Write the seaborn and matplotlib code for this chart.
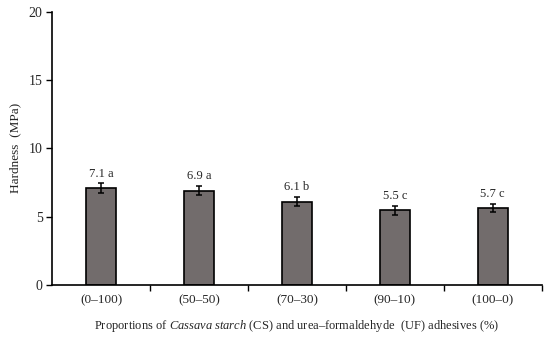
import numpy as np
import pandas as pd
import matplotlib
matplotlib.use("Agg")
import matplotlib.pyplot as plt
import seaborn as sns

# Data
categories = ["(0\u2013100)", "(50\u201350)", "(70\u201330)", "(90\u201310)", "(100\u20130)"]
hardness = [7.1, 6.9, 6.1, 5.45, 5.65]
errors = [0.35, 0.35, 0.35, 0.35, 0.3]
labels = ["7.1 a", "6.9 a", "6.1 b", "5.5 c", "5.7 c"]

df = pd.DataFrame({"group": categories, "hardness": hardness})

sns.set_style("ticks")
plt.rcParams["font.family"] = ["Liberation Serif", "DejaVu Serif"]
plt.rcParams["mathtext.fontset"] = "custom"
plt.rcParams["mathtext.it"] = "Liberation Serif:italic"
plt.rcParams["mathtext.rm"] = "Liberation Serif"

fig, ax = plt.subplots(figsize=(5.5, 3.43), dpi=100)

sns.barplot(data=df, x="group", y="hardness", color="#726c6c", saturation=1,
            width=0.31, edgecolor="black", linewidth=1.2, errorbar=None, ax=ax)

x = np.arange(len(categories))
ax.errorbar(x, hardness, yerr=errors, fmt="none", ecolor="black",
            elinewidth=1.1, capsize=2.5, capthick=1.1)

for xi, h, e, lab in zip(x, hardness, errors, labels):
    ax.text(xi, h + e + 0.25, lab, ha="center", va="bottom", fontsize=9)

ax.set_xlim(-0.5, len(categories) - 0.5)
ax.set_ylim(0, 20)
ax.set_yticks([0, 5, 10, 15, 20])

# ticks sit between categories, labels at centres
ax.tick_params(axis="x", which="major", length=0, labelsize=9.5, pad=7)
ax.set_xticks(np.arange(0.5, len(categories), 1.0), minor=True)
ax.tick_params(axis="x", which="minor", bottom=True, length=4, width=1, direction="out", color="black")
ax.tick_params(axis="y", left=True, length=4, width=1, direction="out", color="black",
               labelsize=10, pad=3)

for side in ["top", "right"]:
    ax.spines[side].set_visible(False)
for side in ["left", "bottom"]:
    ax.spines[side].set_color("black")
    ax.spines[side].set_linewidth(1.2)

ax.set_ylabel("Hardness  (MPa)", fontsize=9.5, labelpad=5)
ax.set_xlabel("Proportions of $\\it{Cassava\\ starch}$ (CS) and urea\u2013formaldehyde  (UF) adhesives (%)",
              fontsize=9, labelpad=8)

plt.subplots_adjust(left=0.095, right=0.985, top=0.965, bottom=0.17)
plt.savefig("out.png", dpi=100)
plt.close()
